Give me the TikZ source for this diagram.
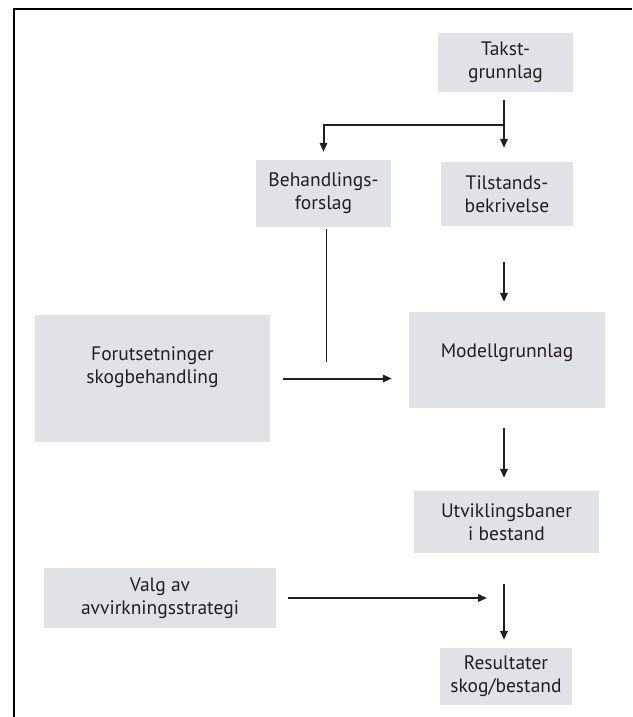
\documentclass[tikz,border=0pt]{standalone}
\usepackage{fontspec}
\setmainfont{PT Sans}
\usetikzlibrary{arrows.meta,positioning}
\definecolor{boxgray}{RGB}{225,226,230}
\definecolor{ink}{RGB}{35,31,32}

\begin{document}
\begin{tikzpicture}[% x and y in pixels of the reference, y going down
			x=1pt,y=-1pt,
			every node/.style={
				align=center,  		% "\\" breaks the lines
				text=ink,
				font=\fontsize{19.5}{23}\selectfont
			},
			box/.style={rectangle,fill=boxgray,inner sep=0pt},
			arr/.style={draw=ink,line width=2pt,-{Triangle[length=9pt,width=7.5pt]}}
		]
		\useasboundingbox (0,0) rectangle (632,717);
		\draw[line width=2pt] (632,9) -- (14,9) -- (14,717);
		\node[box,minimum width=135,minimum height=59](Takst) at (505.5,62.5){Takst-\\grunnlag};
		\node[box,minimum width=135,minimum height=67](Behandling) at (323.5,193.5){Behandlings-\\forslag};
		\node[box,minimum width=132,minimum height=64](Tilstand) at (507,194){Tilstands-\\bekrivelse};
		\node[box,minimum width=235,minimum height=127,text depth=27pt](Forutsetning) at (152.5,378.5){Forutsetninger\\skogbehandling};
		\node[box,minimum width=196,minimum height=96,text depth=18pt](Modell) at (507,360){Modellgrunnlag};
		\node[box,minimum width=185,minimum height=62](Utvikling) at (506.5,522){Utviklingsbaner\\i bestand};
		\node[box,minimum width=232,minimum height=60](Valg) at (160,598){Valg av\\avvirkningsstrategi};
		\node[box,minimum width=132,minimum height=57](Resultat) at (506,676.5){Resultater\\skog/bestand};
		\coordinate (Split) at (504,125);
		\coordinate (Join) at (326,362);
		\coordinate (Target) at (487,602);
		\draw[arr,shorten <=8pt,shorten >=14pt] (Takst.south -| Split) -- (Tilstand.north -| Split);
		\draw[arr,shorten >=8pt] (Split) -| (Behandling.north);
		\draw[draw=ink,line width=1pt,shorten <=2pt] (Behandling.south -| Join) -- (Join);
		\draw[arr,shorten <=13pt,shorten >=17pt] (Forutsetning.east) -- (Forutsetning.east -| Modell.west);
		\draw[arr,shorten <=36pt,shorten >=10pt] (Tilstand.south -| Split) -- (Modell.north -| Split);
		\draw[arr,shorten <=20pt,shorten >=13pt] (Modell.south -| Split) -- (Utvikling.north -| Split);
		\draw[arr,shorten <=12pt] (Valg.east) -- (Valg.east -| Target);
		\draw[arr,shorten <=31pt,shorten >=8pt] (Utvikling.south -| Split) -- (Resultat.north -| Split);
	\end{tikzpicture}
\end{document}
